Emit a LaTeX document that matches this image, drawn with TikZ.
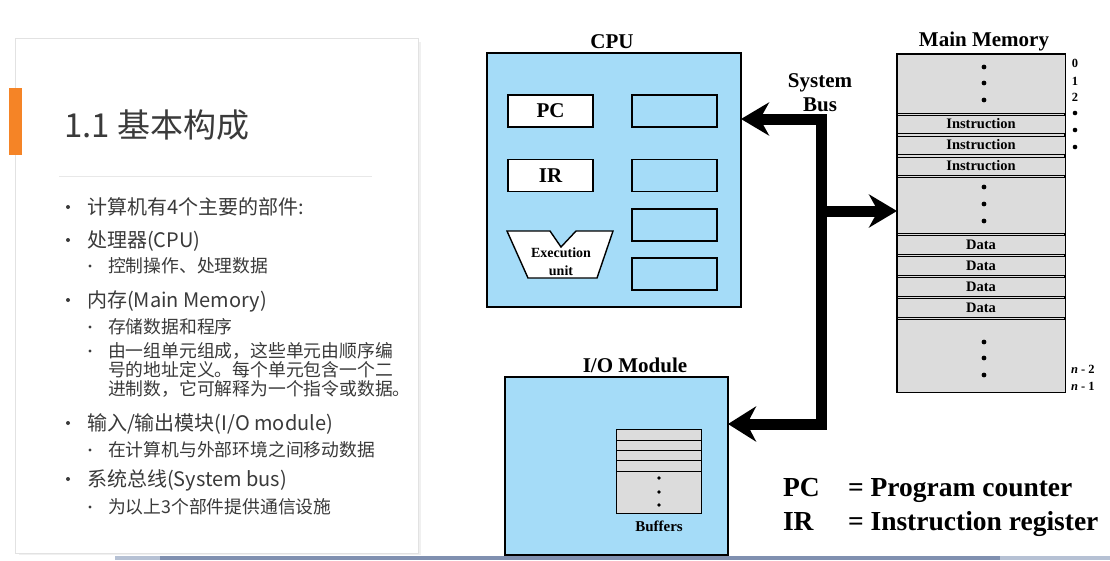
\documentclass[tikz,border=0pt]{standalone}
\usepackage{fontspec}
\setmainfont{Liberation Serif}
\newfontfamily\cjk{Noto Sans CJK SC}
\usetikzlibrary{arrows.meta}
\definecolor{cpublue}{HTML}{A5DCF8}
\definecolor{memgrey}{HTML}{DCDCDC}
\definecolor{slidetext}{HTML}{3A3A3A}
\definecolor{accent}{HTML}{F58426}
\definecolor{barblue}{HTML}{8090B0}
\definecolor{barlight}{HTML}{B6C1D4}
\definecolor{cardline}{HTML}{E2E2E2}
\newcommand{\myfs}[1]{\fontsize{#1}{#1}\selectfont}
\begin{document}
\begin{tikzpicture}[x=1pt,y=-1pt,
  every node/.style={inner sep=0pt, outer sep=0pt},
  ttl/.style={anchor=base, font=\myfs{21}\bfseries},
  reg/.style={draw, line width=1.4pt, fill=white, minimum width=85pt, minimum height=32pt, font=\myfs{21}\bfseries},
  spare/.style={reg, fill=cpublue},
  unitbox/.style={draw, line width=2pt, fill=cpublue},
  memrow/.style={draw, line width=1pt, fill=memgrey, minimum width=168pt, font=\myfs{14.5}\bfseries},
  buf/.style={draw, line width=1pt, fill=memgrey},
  lbl/.style={font=\myfs{12.5}\bfseries},
  legend/.style={anchor=base west, font=\myfs{27.5}\bfseries},
  bus/.style={line width=11pt, line join=miter, line cap=butt},
  st/.style={anchor=base west, font=\cjk\myfs{20}, text=slidetext},
  sst/.style={anchor=base west, font=\cjk\myfs{17.8}, text=slidetext}
]
\useasboundingbox (0,0) rectangle (1110,560);
\fill[white] (0,0) rectangle (1110,560);

% ---------- slide card ----------
\fill[black!6] (19,42) rectangle (421,555);
\draw[cardline, fill=white, line width=1pt] (15,38) rectangle (418,553);
\fill[accent] (9,88) rectangle (22,155);
\node[anchor=base west, font=\cjk\myfs{33}, text=slidetext] (title) at (64,137) {1.1 基本构成};
\draw[black!9, line width=1pt] (59,176) -- (372,176);

\foreach \y in {207,240,300,423,479} \fill[slidetext] (68,\y) circle (2pt);
\foreach \y in {266,327,351,450,507} \fill[slidetext] (90,\y) circle (1.7pt);

\node[st]  (t1)  at (87,214) {计算机有4个主要的部件:};
\node[st]  (t2)  at (87,247) {处理器(CPU)};
\node[sst] (t2a) at (108,272) {控制操作、处理数据};
\node[st]  (t3)  at (87,307) {内存(Main Memory)};
\node[sst] (t3a) at (108,333) {存储数据和程序};
\node[sst] (t3b) at (108,357) {由一组单元组成，这些单元由顺序编};
\node[sst] (t3c) at (108,376) {号的地址定义。每个单元包含一个二};
\node[sst] (t3d) at (108,395) {进制数，它可解释为一个指令或数据。};
\node[st]  (t4)  at (87,430) {输入/输出模块(I/O module)};
\node[sst] (t4a) at (108,456) {在计算机与外部环境之间移动数据};
\node[st]  (t5)  at (87,486) {系统总线(System bus)};
\node[sst] (t5a) at (108,513) {为以上3个部件提供通信设施};

% ---------- CPU ----------
\node[unitbox, minimum width=254pt, minimum height=254pt] (cpu) at (614,180) {};
\node[ttl] (cputitle) at (612,48) {CPU};
\node[reg] (pc) at (550.5,111) {PC};
\node[reg] (ir) at (550.5,175.5) {IR};
\node[spare] (r1) at (674.5,111) {};
\node[spare] (r2) at (674.5,175.5) {};
\node[spare] (r3) at (674.5,225) {};
\node[spare] (r4) at (674.5,274) {};
\draw[line width=1.4pt, fill=white, line join=miter]
  (507,231) -- (550,231) -- (561,247) -- (576,231) -- (613,231) -- (597,278) -- (528,278) -- cycle;
\node[font=\myfs{14}\bfseries, anchor=base] (exu) at (561,257.5) {Execution};
\node[font=\myfs{14}\bfseries, anchor=base] (exu2) at (561,275) {unit};

% ---------- Main memory ----------
\node[draw, line width=1.3pt, fill=memgrey, minimum width=168pt, minimum height=338pt] (mem) at (981,223) {};
\node[ttl] (memtitle) at (984,46) {Main Memory};
\node[memrow, minimum height=59pt] (mtop) at (981,83.5) {};
\node[memrow, minimum height=18pt] (i1) at (981,124) {Instruction};
\node[memrow, minimum height=18pt] (i2) at (981,145) {Instruction};
\node[memrow, minimum height=18pt] (i3) at (981,166) {Instruction};
\node[memrow, minimum height=56pt] (mmid) at (981,205) {};
\node[memrow, minimum height=19pt] (d1) at (981,244.5) {Data};
\node[memrow, minimum height=19pt] (d2) at (981,265.5) {Data};
\node[memrow, minimum height=19pt] (d3) at (981,286.5) {Data};
\node[memrow, minimum height=19pt] (d4) at (981,307.5) {Data};
\node[memrow, minimum height=73pt] (mbot) at (981,355.5) {};
\foreach \y in {67,83,100,187,204,221,342,358,375} \fill (984,\y) circle (2.4pt);
\node[lbl] (a0) at (1075,63) {0};
\node[lbl] (a1) at (1075,81) {1};
\node[lbl] (a2) at (1075,97) {2};
\foreach \y in {113,130,147} \fill (1075,\y) circle (2.3pt);
\node[lbl, anchor=west] (an2) at (1071,369) {\itshape n\upshape\ - 2};
\node[lbl, anchor=west] (an1) at (1071,386) {\itshape n\upshape\ - 1};

% ---------- System bus ----------
\node[ttl] (sys) at (820,87) {System};
\node[ttl] (busl) at (820,111) {Bus};

% ---------- I/O module ----------
\node[unitbox, minimum width=223pt, minimum height=178pt] (io) at (616.5,466) {};
\node[ttl] (iotitle) at (635,372) {I/O Module};
\node[buf, minimum width=85pt, minimum height=84pt] (bufs) at (658.5,471) {};
\foreach \y in {440,450.7,460.7,471} \draw[line width=1pt] (bufs.west |- 0,\y) -- (bufs.east |- 0,\y);
\foreach \y in {478,492,505} \fill (659,\y) circle (1.9pt);
\node[font=\myfs{15}\bfseries, anchor=base] (buflbl) at (659,531) {Buffers};

% bus connectors
\coordinate (b1) at (821,119);
\coordinate (b2) at (821,424);
\coordinate (b3) at (821,211);
\draw[bus, {Stealth[length=28pt,width=33pt,inset=9pt]}-{Stealth[length=28pt,width=35pt,inset=9pt]}]
  (cpu.east |- b1) -- (b1) -- (b2) -- (io.east |- b2);
\draw[bus, -{Stealth[length=28pt,width=33pt,inset=9pt]}] (b3) -- (mem.west |- b3);

% ---------- legend ----------
\node[legend] (lpc) at (783,496) {PC};
\node[legend] (lpct) at (848,496) {= Program counter};
\node[legend] (lir) at (783,530) {IR};
\node[legend] (lirt) at (848,530) {= Instruction register};

% ---------- bottom bar ----------
\fill[barlight] (115,556) rectangle (1110,560);
\fill[barblue] (160,556) rectangle (1000,560);
\end{tikzpicture}
\end{document}
